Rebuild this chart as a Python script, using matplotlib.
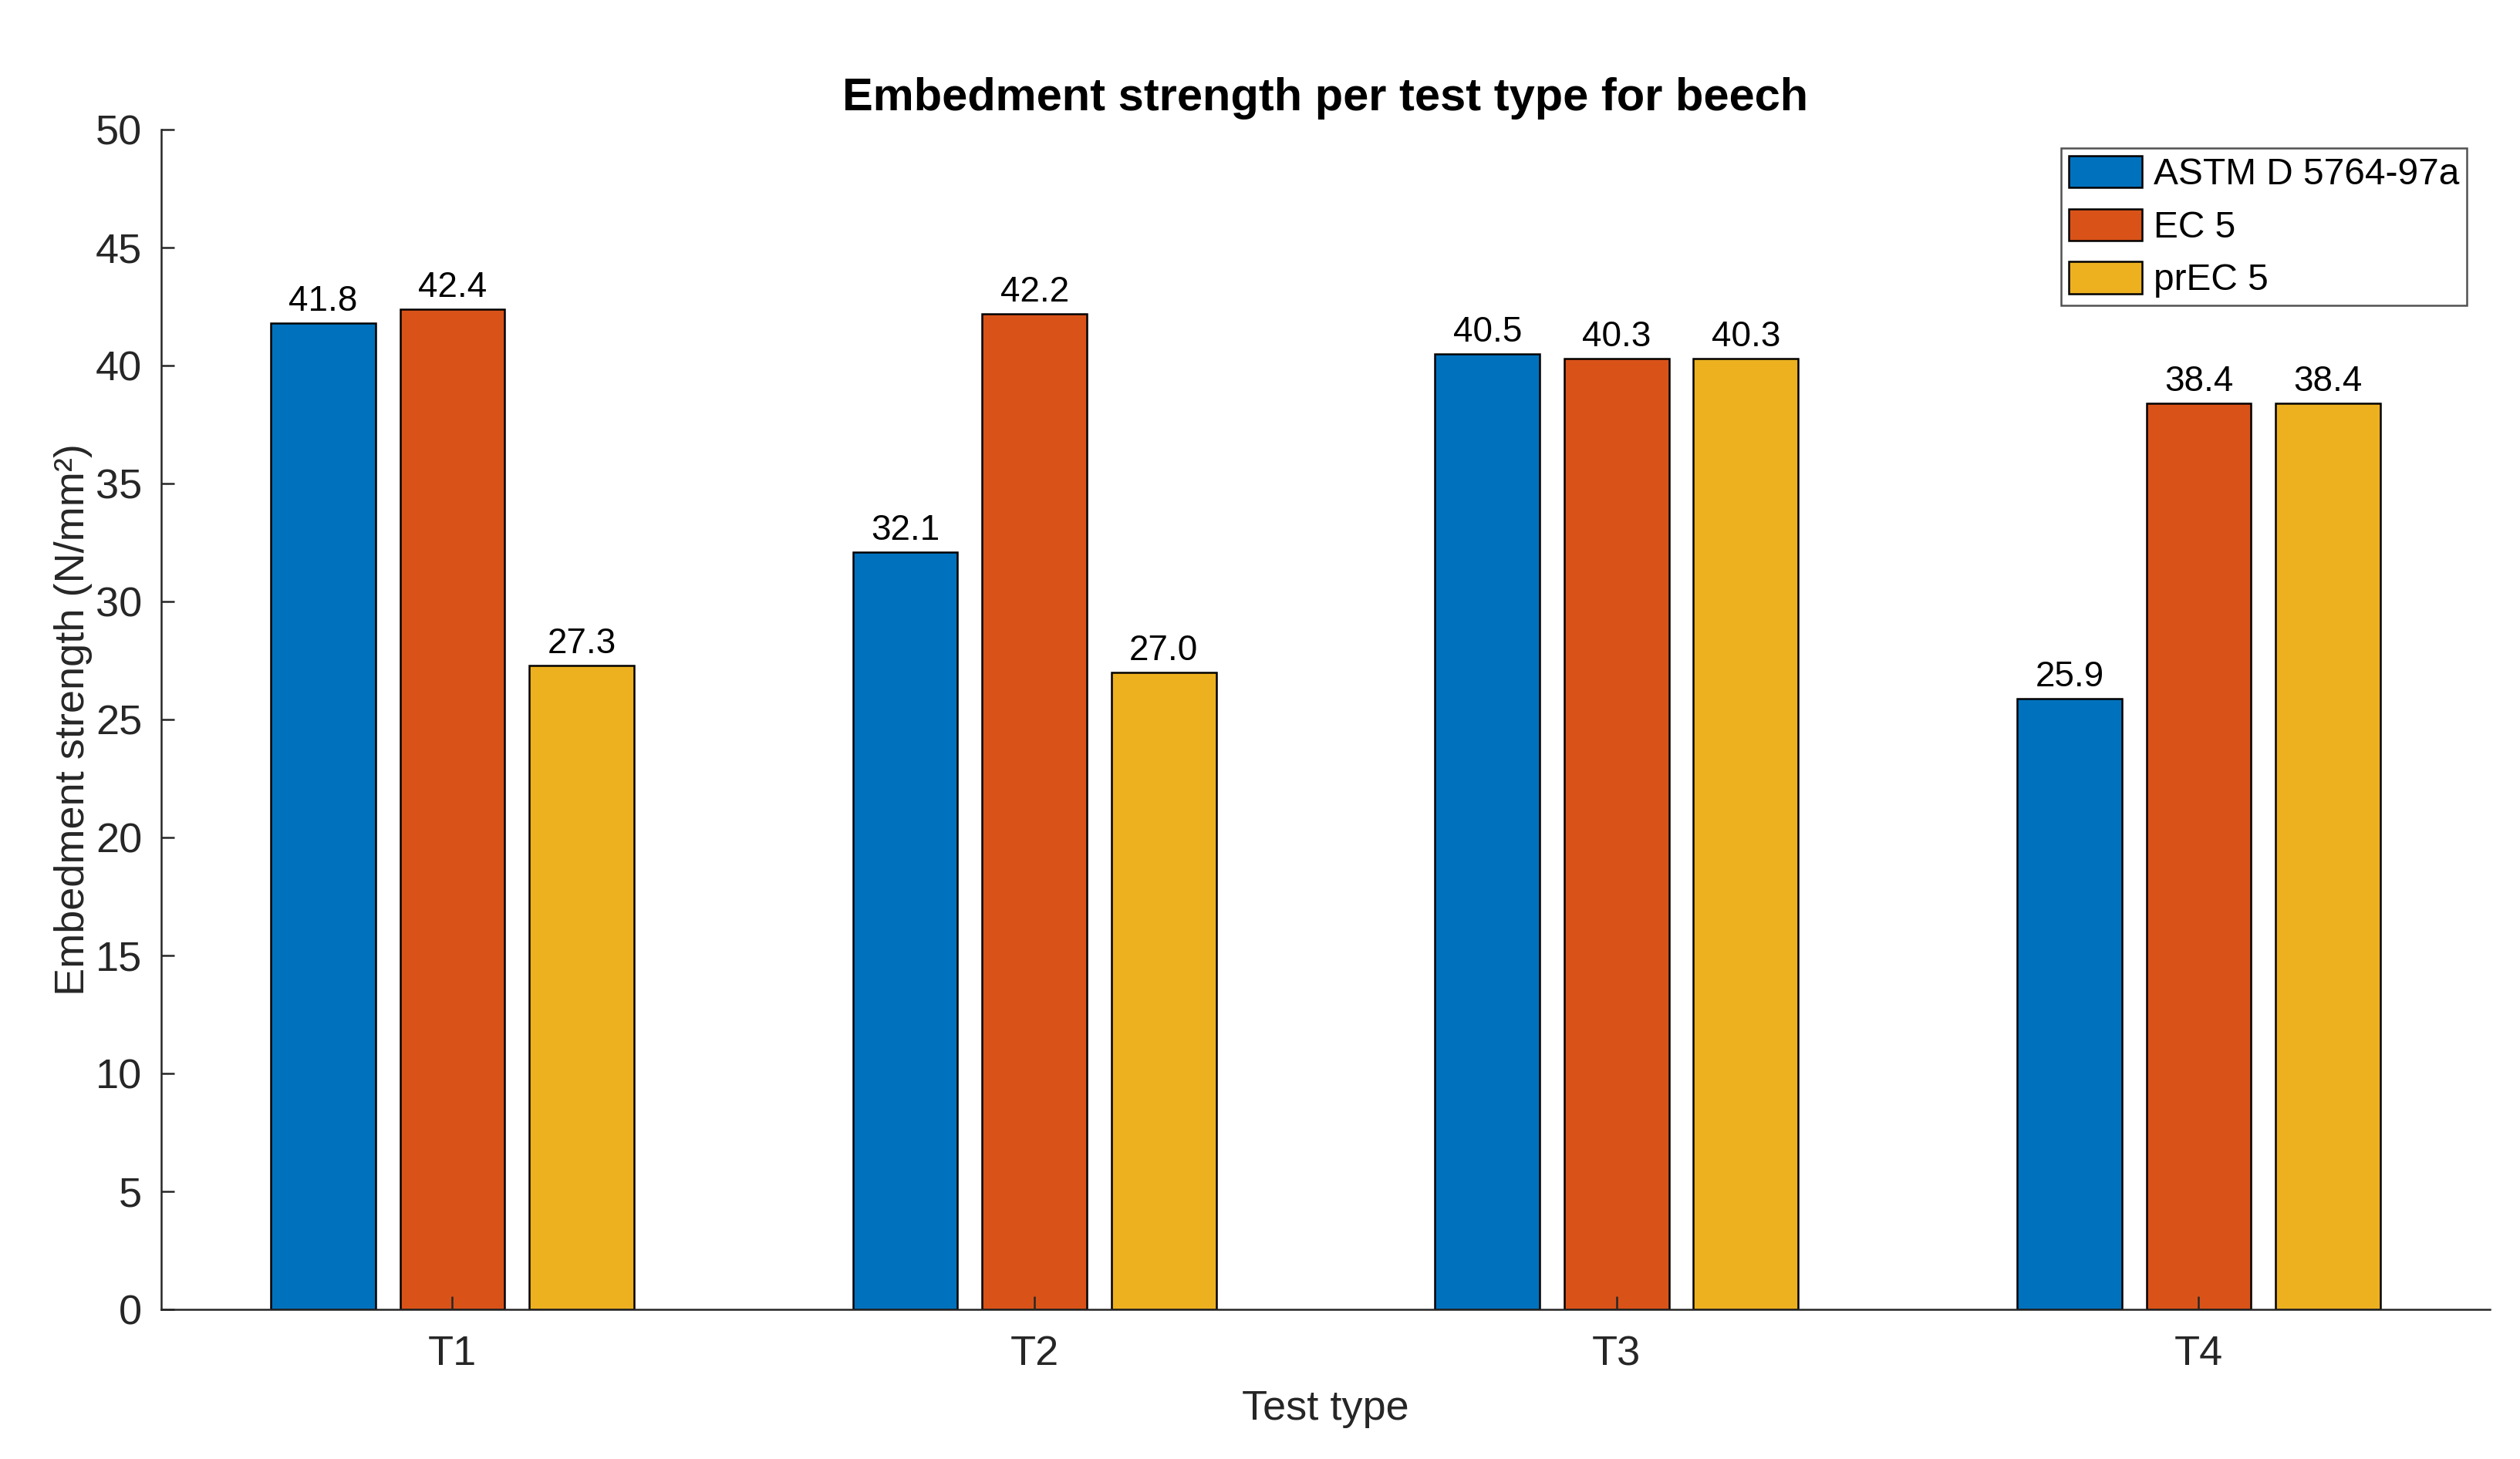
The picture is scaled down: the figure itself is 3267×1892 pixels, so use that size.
import numpy as np
import matplotlib.pyplot as plt

plt.rcParams['font.family'] = ['Liberation Sans', 'DejaVu Sans']

test_types = ['T1', 'T2', 'T3', 'T4']
series_names = ['ASTM D 5764-97a', 'EC 5', 'prEC 5']
astm = [41.8, 32.1, 40.5, 25.9]
ec5 = [42.4, 42.2, 40.3, 38.4]
prec5 = [27.3, 27.0, 40.3, 38.4]
colors = ['#0072BD', '#D95319', '#EDB120']

fig = plt.figure(figsize=(3267 / 300, 1892 / 300), dpi=300)
ax = fig.add_axes([0.064, 0.1025, 0.924, 0.8085])

x = np.arange(1, len(test_types) + 1)
width = 0.18
offsets = [-0.222, 0.0, 0.222]
axis_col = '#262626'

for vals, name, col, off in zip([astm, ec5, prec5], series_names, colors, offsets):
    bars = ax.bar(x + off, vals, width, color=col, edgecolor='black',
                  linewidth=0.6, label=name)
    for b, v in zip(bars, vals):
        ax.text(b.get_x() + b.get_width() / 2, v + 0.2, f'{v:.1f}',
                ha='center', va='bottom', fontsize=11)

ax.set_xlim(0.5, 4.5)
ax.set_ylim(0, 50)
ax.set_yticks(np.arange(0, 51, 5))
ax.set_xticks(x)
ax.set_xticklabels(test_types)
ax.tick_params(axis='both', direction='in', labelsize=13, colors=axis_col,
               length=4, width=0.6, pad=6)
ax.tick_params(axis='x', pad=8)
for s in ['top', 'right']:
    ax.spines[s].set_visible(False)
for s in ['left', 'bottom']:
    ax.spines[s].set_color(axis_col)
    ax.spines[s].set_linewidth(0.6)

ax.set_xlabel('Test type', fontsize=13, color=axis_col, labelpad=5)
ax.set_ylabel('Embedment strength (N/mm²)', fontsize=13, color=axis_col, labelpad=1)
ax.set_title('Embedment strength per test type for beech', fontsize=14.3,
             fontweight='bold', pad=6)

leg = ax.legend(loc='upper right', bbox_to_anchor=(0.998, 1.0), fontsize=11.5,
                frameon=True, fancybox=False, edgecolor=axis_col,
                handlelength=2.0, handleheight=0.95, handletextpad=0.3,
                labelspacing=0.45, borderpad=0.2, borderaxespad=0.5)
leg.get_frame().set_linewidth(0.6)

fig.savefig('out.png', dpi=300, facecolor='white')
